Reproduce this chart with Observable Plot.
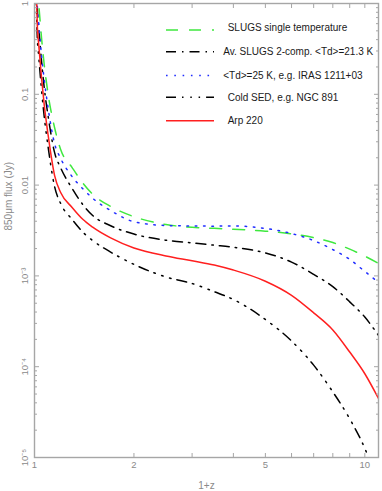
<!DOCTYPE html>
<html><head><meta charset="utf-8">
<script src="https://cdn.jsdelivr.net/npm/d3@7"></script>
<script src="https://cdn.jsdelivr.net/npm/@observablehq/plot@0.6"></script>
<style>
body{margin:0;background:#fff;}
#wrap{position:relative;width:382px;height:491px;overflow:hidden;}
#wrap svg{display:block;}
#legend{position:absolute;left:0;top:0;}
</style></head><body><div id="wrap"></div>
<script>
// ---- data ----
const onePlusZ = [1.01, 1.02, 1.03, 1.05, 1.07, 1.1, 1.15, 1.2, 1.3, 1.4, 1.5, 1.7, 2, 2.5, 3, 3.5, 4, 5, 6, 7, 8, 9, 10, 11];
const slugsSingle = [5.0, 1.43, 0.975, 0.422, 0.213, 0.0995, 0.0431, 0.0247, 0.0156, 0.01057, 0.00794, 0.00582, 0.00449, 0.00368, 0.00343, 0.00334, 0.00327, 0.00311, 0.0029, 0.00264, 0.00233, 0.00197, 0.00165, 0.00137];
const slugsTwoComp = [3.0, 0.859, 0.544, 0.235, 0.119, 0.057, 0.0229, 0.0155, 0.00918, 0.00611, 0.00463, 0.00357, 0.00289, 0.00247, 0.00231, 0.00218, 0.00207, 0.00179, 0.00142, 0.00104, 0.000762, 0.000518, 0.000352, 0.000221];
const td25 = [3.3, 0.927, 0.602, 0.267, 0.146, 0.0697, 0.0287, 0.0197, 0.0124, 0.00913, 0.00716, 0.00524, 0.00395, 0.00359, 0.00355, 0.00353, 0.00355, 0.00333, 0.00293, 0.00245, 0.00195, 0.00152, 0.00112, 0.000846];
const coldSED = [1.5, 0.412, 0.261, 0.113, 0.057, 0.026, 0.00965, 0.00627, 0.00418, 0.00304, 0.00245, 0.00183, 0.00134, 0.000973, 0.000824, 0.00067, 0.00055, 0.000331, 0.000192, 0.000104, 5.28e-5, 2.67e-5, 1.26e-5, 5e-6];
const arp220 = [2.0, 0.558, 0.35, 0.153, 0.077, 0.0352, 0.0128, 0.0083, 0.00567, 0.0042, 0.00344, 0.00262, 0.00203, 0.00166, 0.00147, 0.00132, 0.00116, 0.000874, 0.000611, 0.000392, 0.000254, 0.000145, 8.36e-5, 4.47e-5];
const seriesNames = ["SLUGS single temperature", "Av. SLUGS 2-comp. <Td>=21.3 K", "<Td>=25 K, e.g. IRAS 1211+03", "Cold SED, e.g. NGC 891", "Arp 220"];
const xTickValues = [1, 2, 3, 4, 5, 6, 7, 8, 9, 10];
const xTickLabels = [1, 2, 5, 10];
const yMajor = [1, 0.1, 0.01, 1e-3, 1e-4, 1e-5];
const yMajorLabels = ["1", "0.1", "0.01", "10\u207B\u00B3", "10\u207B\u2074", "10\u207B\u2075"];
const yMinorMantissas = [2, 3, 4, 5, 6, 7, 8, 9];
const yMinorExponents = [-5, -4, -3, -2, -1];
const xTitle = "1+z";
const yTitle = "850\u03BCm flux (Jy)";

// ---- styles ----
const seriesValues = [slugsSingle, slugsTwoComp, td25, coldSED, arp220];
const seriesStyles = [
  {stroke: "#3fe83f", dash: "12,11"},
  {stroke: "#000000", dash: "10,6,1.5,6"},
  {stroke: "#1f2cff", dash: "1.6,6.7"},
  {stroke: "#000000", dash: "10,6,1.5,6.8,1.5,6.8,1.5,6"},
  {stroke: "#ff1f1f", dash: null}
];
const axisGray = "#a6a6a6";
const labelGray = "#8a8a8a";
const font = "'Liberation Sans', Arial, Helvetica, sans-serif";

const yMinor = yMinorExponents.flatMap(e => yMinorMantissas.map(k => k * Math.pow(10, e)));

const lineMarks = seriesValues.map((vals, s) => {
  const rows = onePlusZ.map((x, i) => ({x, y: vals[i]})).filter(d => d.y != null);
  return Plot.line(rows, {x: "x", y: "y", stroke: seriesStyles[s].stroke,
    strokeDasharray: seriesStyles[s].dash, strokeWidth: 1.5, curve: "monotone-x", clip: true});
});

const chart = Plot.plot({
  width: 382, height: 491,
  marginLeft: 34, marginRight: 4, marginTop: 3, marginBottom: 34,
  style: {fontFamily: font, background: "#fff"},
  x: {type: "log", domain: [1, 11], axis: null},
  y: {type: "log", domain: [1e-5, 1], axis: null},
  marks: [
    ...lineMarks,
    Plot.frame({stroke: axisGray, strokeWidth: 1.4}),
    // ticks (inward)
    Plot.axisX(xTickValues, {anchor: "bottom", tickSize: 4, dy: -4, stroke: axisGray, fill: "none"}),
    Plot.axisX(xTickValues, {anchor: "top", tickSize: 4, dy: 4, stroke: axisGray, fill: "none"}),
    Plot.axisY(yMajor, {anchor: "left", tickSize: 5, dx: 5, stroke: axisGray, fill: "none"}),
    Plot.axisY(yMinor, {anchor: "left", tickSize: 3, dx: 3, stroke: axisGray, fill: "none"}),
    Plot.axisY(yMajor, {anchor: "right", tickSize: 5, dx: -5, stroke: axisGray, fill: "none"}),
    Plot.axisY(yMinor, {anchor: "right", tickSize: 3, dx: -3, stroke: axisGray, fill: "none"}),
    // tick labels
    Plot.text(xTickLabels, {x: d => d, frameAnchor: "bottom", dy: 4, lineAnchor: "top", text: d => String(d),
      fill: labelGray, fontSize: 9.5}),
    Plot.text(yMajor, {y: d => d, frameAnchor: "left", dx: -7, rotate: -90, lineAnchor: "bottom", textAnchor: "middle",
      text: (d, i) => yMajorLabels[i], fill: labelGray, fontSize: 9.5}),
    // axis titles
    Plot.text([xTitle], {frameAnchor: "bottom", dy: 28, text: d => d, fill: labelGray, fontSize: 10, lineAnchor: "middle"}),
    Plot.text([yTitle], {frameAnchor: "left", dx: -26, rotate: -90, text: d => d, fill: labelGray, fontSize: 10, lineAnchor: "middle"})
  ]
});
document.getElementById("wrap").appendChild(chart);

// ---- legend overlay ----
const legendLayout = {
  lineX1: 166, lineX2: 214,
  rowY: [30, 51.7, 75.5, 97.3, 120.7],
  textX: [227.7, 223.2, 223.2, 227.7, 227.7],
  textBaseline: [30.8, 55.3, 79.2, 101, 124.4]
};
const leg = d3.select("#wrap").append("svg").attr("id", "legend")
  .attr("width", 382).attr("height", 491);
seriesNames.forEach((name, i) => {
  leg.append("line")
    .attr("x1", legendLayout.lineX1).attr("x2", legendLayout.lineX2)
    .attr("y1", legendLayout.rowY[i]).attr("y2", legendLayout.rowY[i])
    .attr("stroke", seriesStyles[i].stroke).attr("stroke-width", 1.5)
    .attr("stroke-dasharray", seriesStyles[i].dash);
  leg.append("text")
    .attr("x", legendLayout.textX[i]).attr("y", legendLayout.textBaseline[i])
    .attr("font-family", font).attr("font-size", 10).attr("fill", "#1a1a1a")
    .text(name);
});
</script></body></html>
